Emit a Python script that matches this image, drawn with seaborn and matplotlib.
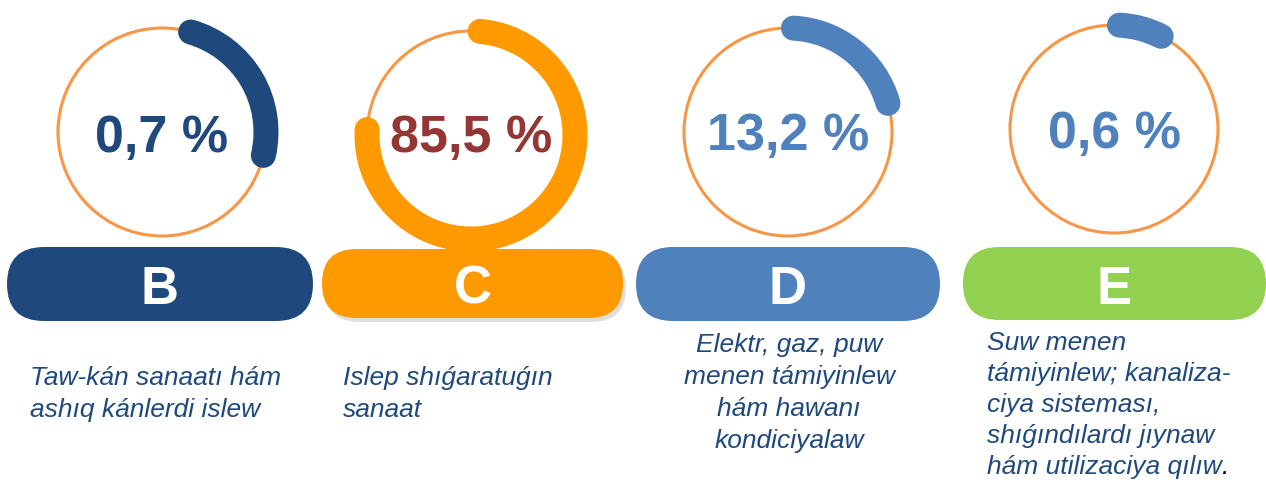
import matplotlib
matplotlib.use("Agg")
import matplotlib.pyplot as plt
import seaborn as sns
from matplotlib.patches import Arc, Circle, FancyBboxPatch

# data
sectors = ["B", "C", "D", "E"]
shares = ["0,7 %", "85,5 %", "13,2 %", "0,6 %"]
# gauge arcs as drawn (degrees, counter-clockwise from 3 o'clock)
arc_start = [-13, 177, 16, 63]
arc_end = [74, 445, 87, 87]
descriptions = [
    ["Taw-kán sanaatı hám", "ashıq kánlerdi islew"],
    ["Islep shıǵaratuǵın", "sanaat"],
    ["Elektr, gaz, puw", "menen támiyinlew", "hám hawanı", "kondiciyalaw"],
    ["Suw menen", "támiyinlew; kanaliza-", "ciya sisteması,",
     "shıǵındılardı jıynaw", "hám utilizaciya qılıw"],
]

arc_colors = ["#1F497D", "#FF9900", "#4F81BD", "#4F81BD"]
pct_colors = ["#1F497D", "#943634", "#4F81BD", "#4F81BD"]
pill_colors = ["#1F497D", "#FF9900", "#4F81BD", "#92D050"]
ring_color = "#F79646"
text_color = "#1F497D"

# layout (pixels, y down)
W, H = 1266, 482
cx = [162, 471, 788, 1114]
cy = [132, 135, 132, 129]
R = 104
pct_base = [152, 152, 150, 148]
pill_x = [(7, 313), (322, 623), (636, 940), (963, 1266)]
pill_y = [(247, 321), (249, 318), (247, 321), (247, 320)]
desc_x = [30, 343, 789, 987]
desc_ha = ["left", "left", "center", "left"]
desc_y0 = [385, 385, 352, 350]
line_gap = [32, 32, 32, 31]

sns.set_theme(style="white")
plt.rcParams["font.family"] = ["Liberation Sans", "DejaVu Sans"]

fig = plt.figure(figsize=(W / 100, H / 100), dpi=100)
ax = fig.add_axes([0, 0, 1, 1])
ax.set_xlim(0, W)
ax.set_ylim(H, 0)
ax.axis("off")

for i, s in enumerate(sectors):
    ax.add_patch(Circle((cx[i], cy[i]), R, fill=False, ec=ring_color, lw=2.2, zorder=1))
    # y axis is inverted, so angles are mirrored
    ax.add_patch(Arc((cx[i], cy[i]), 2 * R, 2 * R, theta1=-arc_end[i], theta2=-arc_start[i],
                     color=arc_colors[i], lw=18, capstyle="round", zorder=2))
    ax.text(cx[i], pct_base[i], shares[i], ha="center", va="baseline",
            fontsize=37.5, fontweight="bold", color=pct_colors[i], zorder=3)

    x0, x1 = pill_x[i]
    y0, y1 = pill_y[i]
    h = y1 - y0
    if s == "C":
        ax.add_patch(FancyBboxPatch((x0 + 3, y0 + 4), x1 - x0, h,
                                    boxstyle=f"round,pad=0,rounding_size={h / 2}",
                                    fc="#7f7f7f", ec="none", alpha=0.25, zorder=3))
    ax.add_patch(FancyBboxPatch((x0, y0), x1 - x0, h,
                                boxstyle=f"round,pad=0,rounding_size={h / 2}",
                                fc=pill_colors[i], ec="none", zorder=4))
    ax.text((x0 + x1) / 2, 304, s, ha="center", va="baseline",
            fontsize=38, fontweight="bold", color="white", zorder=5)

    for j, line in enumerate(descriptions[i]):
        t = ax.text(desc_x[i], desc_y0[i] + j * line_gap[i], line, ha=desc_ha[i],
                    va="baseline", fontsize=19, fontstyle="italic", color=text_color)

# the final full stop is black in the original
fig.canvas.draw()
bb = t.get_window_extent(fig.canvas.get_renderer())
ax.text(bb.x1, desc_y0[3] + 4 * line_gap[3], ".", ha="left", va="baseline",
        fontsize=19, fontstyle="italic", color="black")

fig.savefig("out.png", dpi=100)
